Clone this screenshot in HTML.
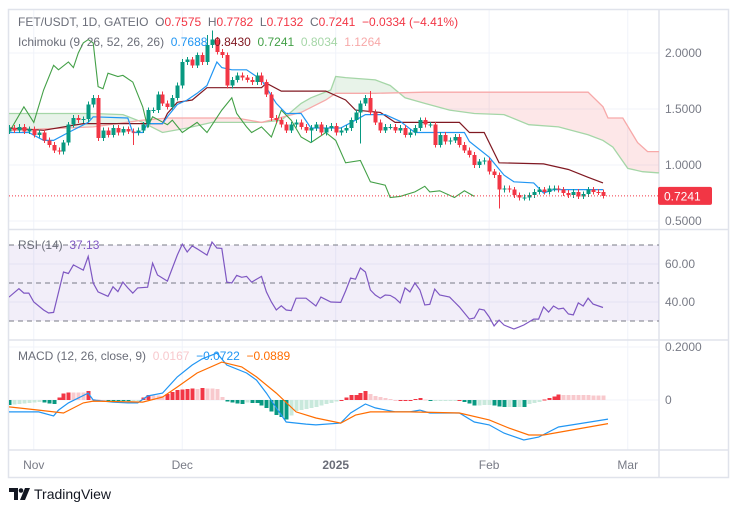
<!DOCTYPE html>
<html><head><meta charset="utf-8">
<style>
html,body{margin:0;padding:0;background:#fff;width:731px;height:513px;overflow:hidden;font-family:"Liberation Sans",sans-serif;}
svg{display:block}
text{font-family:"Liberation Sans",sans-serif;}
</style></head>
<body>
<svg id="chart" width="731" height="513" viewBox="0 0 731 513" xmlns="http://www.w3.org/2000/svg"></svg>
<script>
// ---- data ----
const closes = [1.33,1.31,1.34,1.30,1.32,1.27,1.29,
1.22,1.18,1.13,1.12,1.20,1.36,1.42,1.40,1.41,1.54,1.60,
1.24,1.31,1.27,1.33,1.29,1.32,1.30,1.29,1.31,1.36,1.49,1.49,1.63,1.55,1.52,1.60,1.71,1.92,1.94,1.89,1.98,1.92,2.07,2.12,2.01,1.98,1.71,1.76,1.80,1.78,1.76,1.74,1.80,1.74,1.63,
1.42,1.40,1.36,1.31,1.36,1.38,1.34,1.31,1.33,1.36,1.29,1.33,1.35,1.29,1.31,1.33,1.40,1.47,1.55,1.60,1.47,1.38,1.31,1.34,1.34,1.31,1.33,1.27,1.29,1.33,1.40,1.36,1.36,1.18,1.27,1.21,1.22,1.25,1.18,1.13,1.09,1.00,1.03,1.04,0.94,0.91,0.78,0.79,0.78,0.73,0.71,0.71,0.73,0.76,0.78,0.76,0.79,0.79,0.78,0.75,0.73,0.76,0.72,0.74,0.78,0.76,0.7575,0.7241];
const firstOpen = 1.30;
const wickLowOverride = {99:0.61, 61:1.20, 71:1.19, 25:1.18};
const wickHighOverride = {41:2.20, 40:2.16, 53:1.65, 73:1.66};

const tenkanDay = [0,4,7,9,12,16,17,24,25,27,28,31,32,34,36,38,40,42,43,45,48,51,54,56,59,61,67,70,72,76,79,82,92,93,97,100,102,106,108,110,120];
const tenkanVal = [1.29,1.29,1.22,1.22,1.29,1.38,1.43,1.42,1.29,1.29,1.37,1.37,1.43,1.54,1.58,1.64,1.71,1.92,1.87,1.85,1.85,1.76,1.55,1.46,1.46,1.33,1.33,1.40,1.45,1.45,1.39,1.29,1.29,1.21,1.07,0.91,0.85,0.84,0.75,0.78,0.78];
const kijunDay = [0,7,15,31,32,34,37,40,51,52,55,64,68,70,75,78,91,93,96,99,108,113,117,120];
const kijunVal = [1.33,1.31,1.37,1.37,1.46,1.56,1.58,1.69,1.69,1.73,1.66,1.66,1.58,1.49,1.47,1.38,1.38,1.29,1.29,1.02,1.01,0.96,0.89,0.84];
const chikouDay = [0,3,5,7,9,10,12,13,14,15,16,17,18,19,20,22,23,25,27,28,29,32,33,35,38,40,43,45,46,48,49,51,53,55,57,59,61,64,66,68,71,73,76,77,79,82,84,85,87,90,92,94];
const chikouVal = [1.29,1.52,1.38,1.67,1.89,1.85,1.92,1.87,2.00,2.09,2.12,2.09,1.70,1.68,1.82,1.79,1.80,1.74,1.52,1.34,1.43,1.36,1.40,1.29,1.38,1.29,1.49,1.60,1.46,1.34,1.29,1.34,1.25,1.49,1.40,1.25,1.20,1.29,1.22,1.02,1.04,0.85,0.82,0.71,0.72,0.76,0.81,0.76,0.77,0.71,0.77,0.72];
const spanADay = [0,17,23,27,31,36,41,51,55,59,61,65,66,68,74,77,80,84,89,94,100,105,111,117,120,122,125,128,131,146];
const spanAVal = [1.46,1.46,1.45,1.38,1.29,1.33,1.38,1.38,1.40,1.55,1.60,1.67,1.79,1.78,1.76,1.71,1.60,1.55,1.49,1.46,1.45,1.36,1.34,1.27,1.22,1.16,0.97,0.94,0.93,0.93];
const spanBDay = [0,17,27,32,46,51,59,64,66,74,84,117,120,121,124,127,129,131,146];
const spanBVal = [1.31,1.34,1.40,1.42,1.42,1.38,1.47,1.58,1.64,1.64,1.65,1.65,1.52,1.42,1.42,1.20,1.12,1.12,1.12];

const rsiDay = [0,2,3,4,5,7,8,9,11,12,13,15,16,17,18,20,21,22,23,24,25,26,28,29,30,32,34,35,36,37,38,40,41,42,43,44,45,46,47,48,49,51,52,53,54,55,56,57,58,60,62,63,65,67,68,69,70,71,72,73,74,75,76,77,78,79,80,81,82,83,84,85,86,87,89,90,91,93,94,95,96,97,98,99,100,101,102,103,104,106,107,108,109,110,111,112,113,114,115,116,117,118,120];
const rsiVal = [42.6,47,44.7,44.7,40,35.8,34.2,34.5,55.8,55,59.5,56.8,64,50,45.3,43,48,45.5,50.5,47.4,44.7,47.4,47.8,60.5,54.2,51,64.7,70.5,66.3,69.5,68,64.7,71.6,68.4,68.2,50.5,50,54,53,53.5,50.5,53.5,45.3,40,35.8,38,35.8,35.5,42,42,37.9,42.6,40,39.8,45.8,52.6,52,57.9,55.8,46.3,43.7,42,43.7,43.5,42,39.5,47.4,45.3,50,46.3,38.4,38.8,46.8,43.7,42.6,40,37.4,31,31.6,36.3,35.8,32.1,27.4,30.5,27.9,26.8,25.8,26.8,27.9,31,31,37.4,34.7,37.9,36.3,36.8,33.7,33.2,39.5,37.9,42,38.9,37.13];

const macdDay = [0,6,9,10,12,16,17,21,24,26,28,31,34,37,39,42,44,48,50,52,54,56,60,62,67,69,72,74,78,81,83,85,91,94,97,100,104,107,111,115,121];
const macdVal = [-0.045,-0.045,-0.06,-0.038,-0.011,0.026,0,-0.008,-0.011,-0.011,0.015,0.026,0.087,0.132,0.155,0.177,0.132,0.102,0.075,0.026,-0.03,-0.083,-0.091,-0.094,-0.087,-0.049,-0.015,-0.03,-0.045,-0.045,-0.038,-0.049,-0.049,-0.083,-0.094,-0.125,-0.151,-0.14,-0.102,-0.09,-0.0722];
const signalDay = [0,6,11,15,17,27,31,34,38,43,47,50,54,58,62,67,70,73,81,91,97,101,105,108,121];
const signalVal = [-0.026,-0.038,-0.049,-0.011,-0.004,-0.008,0.011,0.049,0.102,0.143,0.125,0.087,0.026,-0.045,-0.068,-0.087,-0.057,-0.045,-0.045,-0.049,-0.075,-0.106,-0.132,-0.132,-0.0889];

const priceTicks = [2.0,1.5,1.0,0.5];
const priceTickLabels = ["2.0000","1.5000","1.0000","0.5000"];
const rsiTicks = [60,40];
const rsiTickLabels = ["60.00","40.00"];
const rsiBands = [70,50,30];
const macdTicks = [0.2,0];
const macdTickLabels = ["0.2000","0"];
const timeDays = [5,35,66,97,125];
const timeLabels = ["Nov","Dec","2025","Feb","Mar"];

// ---- scales ----
const xS = d => 9 + d*4.95;
const yP = p => 53 + (2-p)*112;
const yR = v => 283 - (v-50)*1.9;
const yM = v => 400 - v*265;
const PL = 9, PR = 659;

const svg = document.getElementById('chart');
const NS = 'http://www.w3.org/2000/svg';
function mk(tag, attrs, parent){ const e=document.createElementNS(NS,tag); for(const k in attrs) e.setAttribute(k,attrs[k]); (parent||svg).appendChild(e); return e; }
function interp(days, vals, d){
  if(d<=days[0]) return vals[0];
  for(let i=1;i<days.length;i++){ if(d<=days[i]){ const t=(d-days[i-1])/(days[i]-days[i-1]); return vals[i-1]+t*(vals[i]-vals[i-1]); } }
  return vals[vals.length-1];
}
function polyPts(days, vals, yf){ return days.map((d,i)=>xS(d).toFixed(1)+','+yf(vals[i]).toFixed(1)).join(' '); }

const defs = mk('defs',{});
const cp1 = mk('clipPath',{id:'cMain'},defs); mk('rect',{x:PL,y:10,width:PR-PL,height:219},cp1);
const cp2 = mk('clipPath',{id:'cRsi'},defs); mk('rect',{x:PL,y:231,width:PR-PL,height:108},cp2);
const cp3 = mk('clipPath',{id:'cMacd'},defs); mk('rect',{x:PL,y:341,width:PR-PL,height:108},cp3);

// grid
const grid = mk('g',{});


timeDays.forEach(d=>{ mk('line',{x1:xS(d),x2:xS(d),y1:10,y2:450,stroke:'#f0f3fa','stroke-width':1},grid); });
priceTicks.forEach(p=>{ mk('line',{x1:PL,x2:PR,y1:yP(p),y2:yP(p),stroke:'#f0f3fa'},grid); });
rsiTicks.forEach(v=>{ mk('line',{x1:PL,x2:PR,y1:yR(v),y2:yR(v),stroke:'#f0f3fa'},grid); });
macdTicks.forEach(v=>{ mk('line',{x1:PL,x2:PR,y1:yM(v),y2:yM(v),stroke:'#f0f3fa'},grid); });

// frame
const frame = mk('g',{fill:'none',stroke:'#e0e3eb','stroke-width':1.5});


mk('rect',{x:8.5,y:9.5,width:720,height:468},frame);
mk('line',{x1:PR,x2:PR,y1:10,y2:477},frame);
mk('line',{x1:8,x2:729,y1:229.5,y2:229.5},frame);
mk('line',{x1:8,x2:729,y1:340,y2:340},frame);
mk('line',{x1:8,x2:729,y1:450,y2:450},frame);

// ---- main pane ----
const main = mk('g',{'clip-path':'url(#cMain)'});


// cloud: contiguous runs of same sign -> one polygon each
const cloud = mk('g',{},main);


(function(){
  const step=0.25; let run=[]; let sign=null;
  function flush(){
    if(run.length>1){
      const top=run.map(r=>xS(r.d).toFixed(2)+','+yP(r.a).toFixed(2));
      const bot=run.slice().reverse().map(r=>xS(r.d).toFixed(2)+','+yP(r.b).toFixed(2));
      mk('polygon',{points:top.concat(bot).join(' '),fill:sign?'rgba(67,160,71,0.12)':'rgba(242,54,69,0.12)'},cloud);
    }
  }
  for(let d=0; d<=146; d+=step){
    const a=interp(spanADay,spanAVal,d), b=interp(spanBDay,spanBVal,d);
    const s=a>=b;
    if(sign===null) sign=s;
    if(s!==sign){ const mid={d:d-step/2,a:(a+b)/2,b:(a+b)/2}; run.push(mid); flush(); run=[mid]; sign=s; }
    run.push({d,a,b});
  }
  flush();
})();
const sA = mk('polyline',{points:polyPts(spanADay,spanAVal,yP),fill:'none',stroke:'#a5d6a7','stroke-width':1.3},main);


const sB = mk('polyline',{points:polyPts(spanBDay,spanBVal,yP),fill:'none',stroke:'#f7a9a9','stroke-width':1.3},main);


const ch = mk('polyline',{points:polyPts(chikouDay,chikouVal,yP),fill:'none',stroke:'#43a047','stroke-width':1.1},main);


const kj = mk('polyline',{points:polyPts(kijunDay,kijunVal,yP),fill:'none',stroke:'#801922','stroke-width':1.2},main);


const tk = mk('polyline',{points:polyPts(tenkanDay,tenkanVal,yP),fill:'none',stroke:'#2196f3','stroke-width':1.2},main);



// candles
const cg = mk('g',{'shape-rendering':'crispEdges'},main);


closes.forEach((c,i)=>{
  const o = i===0?firstOpen:closes[i-1];
  const up = c>=o; const col = up?'#089981':'#f23645';
  const hi = wickHighOverride[i]!==undefined?wickHighOverride[i]:Math.max(o,c)+0.025;
  const lo = wickLowOverride[i]!==undefined?wickLowOverride[i]:Math.min(o,c)-0.025;
  const x = Math.round(xS(i));
  const g = mk('g',{},cg);
  
  
  mk('rect',{x:x,y:yP(hi),width:1,height:yP(lo)-yP(hi),fill:col},g);
  const t=Math.min(yP(o),yP(c)); const h=Math.max(1,Math.abs(yP(o)-yP(c)));
  mk('rect',{x:x-1.5,y:t,width:4,height:h,fill:col},g);
});
const lastC = closes[closes.length-1];
const lp = mk('line',{x1:PL,x2:PR,y1:yP(lastC),y2:yP(lastC),stroke:'#f23645','stroke-width':1,'stroke-dasharray':'1 2'});



// ---- RSI pane ----
const rsiG = mk('g',{'clip-path':'url(#cRsi)'});


const band = mk('rect',{x:PL,y:yR(70),width:PR-PL,height:yR(30)-yR(70),fill:'rgba(126,87,194,0.1)'},rsiG);


rsiBands.forEach(v=>{
  const l = mk('line',{x1:PL,x2:PR,y1:yR(v),y2:yR(v),stroke:'#787b86','stroke-dasharray':'5 4','stroke-width':1},rsiG);
  
  
});
const rl = mk('polyline',{points:polyPts(rsiDay,rsiVal,yR),fill:'none',stroke:'#7e57c2','stroke-width':1.2},rsiG);



// ---- MACD pane ----
const mg = mk('g',{'clip-path':'url(#cMacd)'});


const hg = mk('g',{'shape-rendering':'crispEdges'},mg);


let prevH = 0;
for(let i=0;i<closes.length;i++){
  const h = interp(macdDay,macdVal,i)-interp(signalDay,signalVal,i);
  let col;
  if(h>=0) col = h>=prevH?'#f23645':'#f8c9cd'; else col = h<=prevH?'#089981':'#c9e9dc';
  prevH = h;
  const y0=yM(0), y1=yM(h);
  const b = mk('rect',{x:Math.round(xS(i))-1.5,y:Math.min(y0,y1),width:4,height:Math.max(1,Math.abs(y1-y0)),fill:col},hg);
  
  
}
const ml = mk('polyline',{points:polyPts(macdDay,macdVal,yM),fill:'none',stroke:'#2196f3','stroke-width':1.2},mg);


const sl = mk('polyline',{points:polyPts(signalDay,signalVal,yM),fill:'none',stroke:'#ff6d00','stroke-width':1.2},mg);



// ---- axes labels ----
function txt(x,y,s,attrs,name){ const t=mk('text',Object.assign({x:x,y:y,'font-size':12,fill:'#787b86'},attrs||{})); t.textContent=s;   return t; }
priceTicks.forEach((p,i)=>{ txt(665,yP(p)+4,priceTickLabels[i],{},'price-tick-label'); });
rsiTicks.forEach((v,i)=>{ txt(665,yR(v)+4,rsiTickLabels[i],{},'rsi-tick-label'); });
macdTicks.forEach((v,i)=>{ txt(665,yM(v)+4,macdTickLabels[i],{},'macd-tick-label'); });
timeDays.forEach((d,i)=>{ txt(xS(d),469,timeLabels[i],{'text-anchor':'middle','font-weight':i===2?'bold':'normal',fill:i===2?'#6a6d78':'#787b86'},'time-tick-label'); });

const badge = mk('g',{});


mk('rect',{x:658,y:yP(lastC)-9,width:54,height:18,rx:2,fill:'#f23645'},badge);
const bt = mk('text',{x:664,y:yP(lastC)+4.5,'font-size':12,fill:'#fff'},badge); bt.textContent='0.7241';
</script>

<div style="position:absolute;left:18px;top:15px;font-size:12px;color:#6a6d78;white-space:nowrap;">FET/USDT, 1D, GATEIO&nbsp; <span>O</span><span style="color:#f23645">0.7575</span>&nbsp; <span>H</span><span style="color:#f23645">0.7782</span>&nbsp; <span>L</span><span style="color:#f23645">0.7132</span>&nbsp; <span>C</span><span style="color:#f23645">0.7241</span>&nbsp; <span style="color:#f23645">−0.0334 (−4.41%)</span></div>
<div style="position:absolute;left:18px;top:35px;font-size:12px;color:#6a6d78;white-space:nowrap;">Ichimoku (9, 26, 52, 26, 26)&nbsp; <span style="color:#2196f3">0.7688</span>&nbsp; <span style="color:#801922">0.8430</span>&nbsp; <span style="color:#43a047">0.7241</span>&nbsp; <span style="color:#a5d6a7">0.8034</span>&nbsp; <span style="color:#f7a9a9">1.1264</span></div>
<div style="position:absolute;left:18px;top:238px;font-size:12px;color:#6a6d78;white-space:nowrap;">RSI (14)&nbsp; <span style="color:#7e57c2">37.13</span></div>
<div style="position:absolute;left:18px;top:349px;font-size:12px;color:#6a6d78;white-space:nowrap;">MACD (12, 26, close, 9)&nbsp; <span style="color:#f8c9cd">0.0167</span>&nbsp; <span style="color:#2196f3">−0.0722</span>&nbsp; <span style="color:#ff6d00">−0.0889</span></div>
<div style="position:absolute;left:9px;top:486px;font-size:14px;color:#131722;white-space:nowrap;display:flex;align-items:center;">
<svg width="22" height="12" viewBox="0 0 22 12" style="margin-right:3px"><path d="M0 0h9v12H5V4H0z" fill="#131722"/><circle cx="12" cy="2.5" r="2.3" fill="#131722"/><path d="M16 0h5l-5 12h-5z" fill="#131722"/></svg>TradingView</div>
</body></html>
